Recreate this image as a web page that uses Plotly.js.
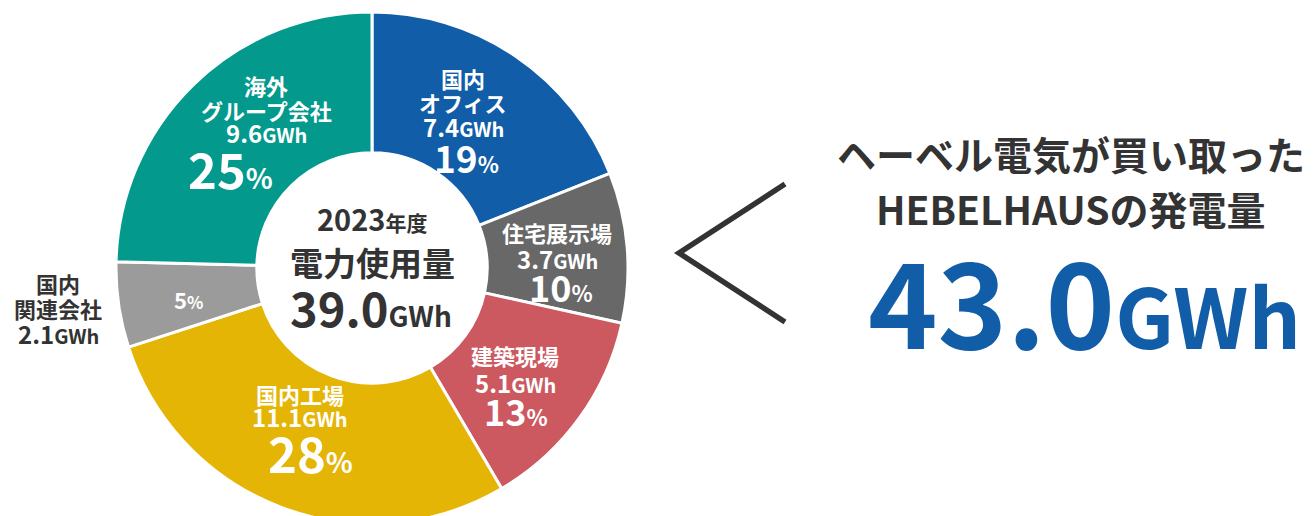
<!DOCTYPE html>
<html><head><meta charset="utf-8">
<script src="https://cdn.plot.ly/plotly-3.0.1.min.js"></script>
<style>html,body{margin:0;padding:0;background:#fff;overflow:hidden}#wrap{width:1314px;height:516px;overflow:hidden}#chart{width:1314px;height:524px}</style>
</head><body><div id="wrap"><div id="chart"></div></div>
<script>
const categories = ["国内オフィス","住宅展示場","建築現場","国内工場","国内関連会社","海外グループ会社"];
const labelLines = [["国内","オフィス"],["住宅展示場"],["建築現場"],["国内工場"],["国内","関連会社"],["海外","グループ会社"]];
const valuesGWh = [7.4, 3.7, 5.1, 11.1, 2.1, 9.6];
const percents = [19, 10, 13, 28, 5, 25];
const colors = ["#115DA8","#686868","#CC5860","#E5B505","#9B9B9B","#03998C"];
const totalUse = "39.0";
const fiscalYear = "2023";
const generated = "43.0";
const headline = ["ヘーベル電気が買い取った", "HEBELHAUSの発電量"];

const W = 1314, H = 524;
const px = (x) => x / W;
const py = (y) => 1 - y / H;
const F = "Noto Sans CJK JP, Noto Sans, sans-serif";
const ann = [];
function t(x, y, text, size, color) {
  ann.push({xref:"paper", yref:"paper", x:px(x), y:py(y), text:text, showarrow:false,
    xanchor:"center", yanchor:"middle", align:"center",
    font:{family:F, size:size, color:color || "#fff", weight:700}});
}
const sp = (s, txt) => `<span style="font-size:${s}px">${txt}</span>`;
const pct = (p, small) => `${p}` + sp(small, "%");
// label block: name lines (24.5px apart) then the value line
function block(i, x, yTop, yVal, color) {
  let y = yTop;
  labelLines[i].forEach(l => { t(x, y, l, 22, color); y += 24.5; });
  t(x, yVal, valuesGWh[i].toFixed(1) + sp(20, "GWh"), 24, color);
}

// slice labels
block(0, 463, 78, 126);
t(466, 157, pct(percents[0], 22), 37);

block(1, 557, 232, 258);
t(561, 286, pct(percents[1], 22), 36);

block(2, 515, 355, 382);
t(516, 410, pct(percents[2], 22), 36);

block(3, 300, 394, 416);
t(310, 451, pct(percents[3], 28), 49);

t(188, 299, pct(percents[4], 17), 22);

block(5, 266, 85, 133);
t(230, 167, pct(percents[5], 28), 49);

block(4, 58, 283, 333, "#333");

// centre
t(372, 218, fiscalYear + sp(21, "年度"), 29, "#333");
t(372, 262, "電力使用量", 33, "#333");
t(371, 306, totalUse + sp(28, "GWh"), 47, "#333");

// right side
t(1071, 153, headline[0], 39, "#333");
t(1071, 208, headline[1], 39, "#333");
t(1084, 297, generated + sp(82, "GWh"), 118, "#115DA8");

const data = [{
  type: "pie",
  labels: categories,
  values: valuesGWh,
  sort: false,
  direction: "clockwise",
  rotation: 0,
  hole: 0.45,
  textinfo: "none",
  hoverinfo: "label+value",
  marker: {colors: colors, line: {color: "#fff", width: 3}},
  domain: {x: [px(116), px(628)], y: [0, py(12)]}
}];

const layout = {
  width: W, height: H,
  margin: {l:0, r:0, t:0, b:0},
  showlegend: false,
  paper_bgcolor: "#fff",
  annotations: ann,
  shapes: [{
    type: "path", xref: "paper", yref: "paper",
    path: `M ${px(785)},${py(184)} L ${px(679)},${py(253)} L ${px(785)},${py(322)}`,
    line: {color: "#333", width: 5.5}
  }]
};
Plotly.newPlot("chart", data, layout, {staticPlot: true});
</script></body></html>
